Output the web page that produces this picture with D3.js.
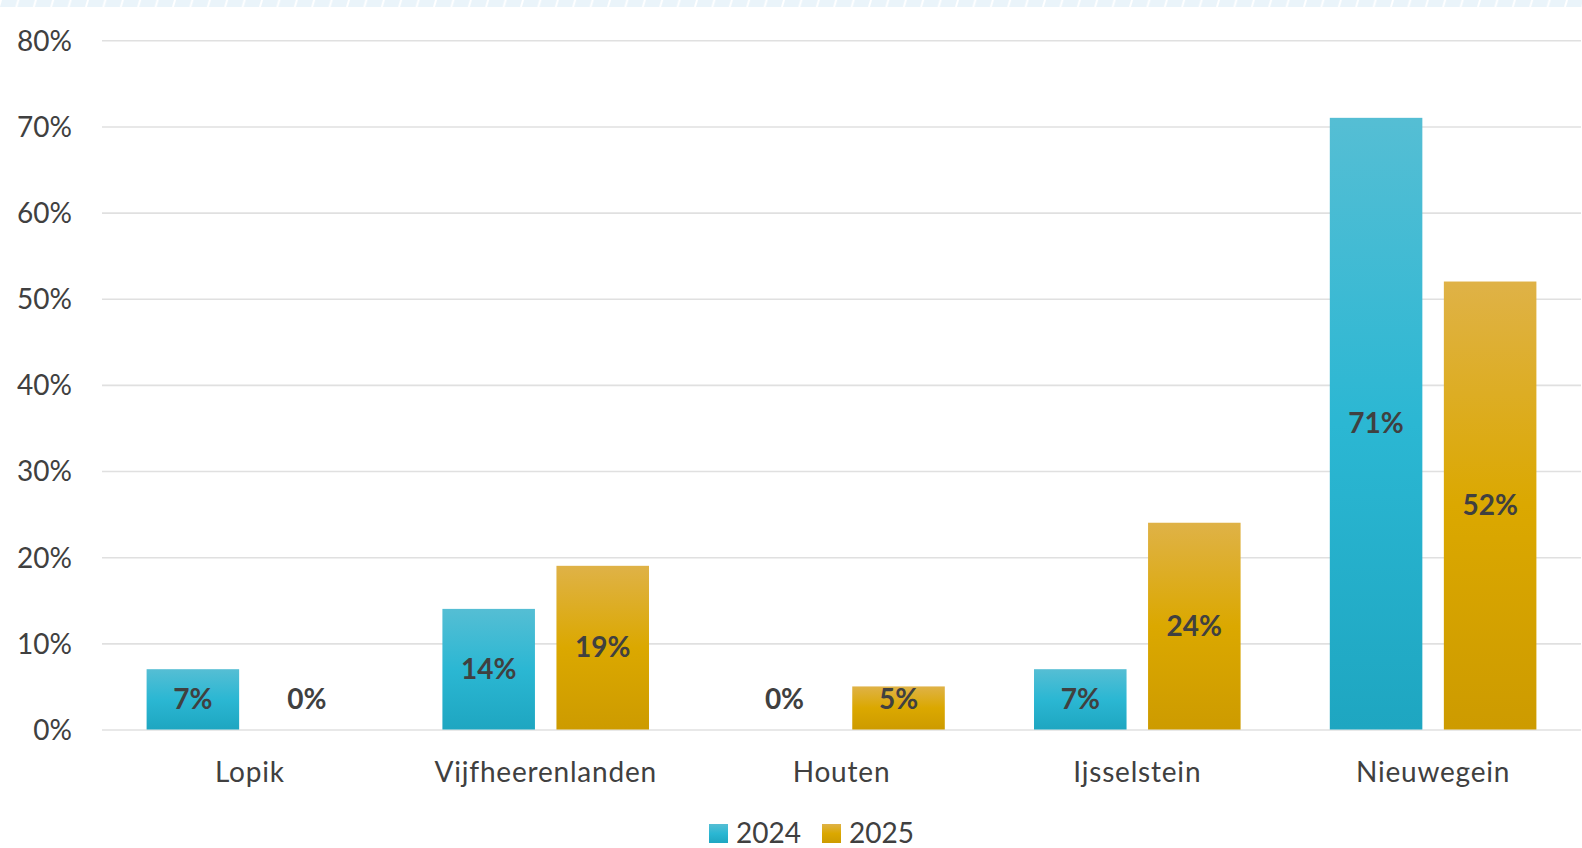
<!DOCTYPE html>
<html>
<head>
<meta charset="utf-8">
<script src="https://cdn.jsdelivr.net/npm/d3@7"></script>
<style>
  html, body { margin: 0; padding: 0; background: #fff; }
  svg { display: block; }
</style>
</head>
<body>
<svg id="chart" width="1582" height="848"></svg>
<script>
const categories = ["Lopik", "Vijfheerenlanden", "Houten", "Ijsselstein", "Nieuwegein"];
const seriesNames = ["2024", "2025"];
const values2024 = [7, 14, 0, 7, 71];
const values2025 = [0, 19, 5, 24, 52];
const yTicks = [0, 10, 20, 30, 40, 50, 60, 70, 80];

(function () {
const W = 1582, H = 848;
const svg = d3.select("#chart");
const font = "Lato, 'Open Sans', sans-serif";
const textColor = "#404040";
const fs = 28;

const plotLeft = 102, plotRight = 1581, plotTop = 40.3, plotBottom = 729.5;

const defs = svg.append("defs");
const gradSpecs = [
  { id: "g2024", stops: ["#55bed4", "#2bb7d3", "#1ea6c1"] },
  { id: "g2025", stops: ["#dfb247", "#dba800", "#cd9b00"] }
];
gradSpecs.forEach(g => {
  const lg = defs.append("linearGradient").attr("id", g.id)
    .attr("x1", 0).attr("y1", 0).attr("x2", 0).attr("y2", 1);
  lg.append("stop").attr("offset", "0%").attr("stop-color", g.stops[0]);
  lg.append("stop").attr("offset", "50%").attr("stop-color", g.stops[1]);
  lg.append("stop").attr("offset", "100%").attr("stop-color", g.stops[2]);
});

// top dashed strip
const pat = defs.append("pattern").attr("id", "dash").attr("patternUnits", "userSpaceOnUse")
  .attr("width", 17.4).attr("height", 7);
pat.append("polygon").attr("points", "2,0 17.4,0 15.4,7 0,7").attr("fill", "#eaf4fa");
svg.append("rect").attr("x", 0).attr("y", 0).attr("width", W).attr("height", 7).attr("fill", "url(#dash)");

const y = d3.scaleLinear().domain([0, 80]).range([plotBottom, plotTop]);
const x0 = d3.scaleBand().domain(categories).range([plotLeft, plotRight]).paddingInner(0).paddingOuter(0);
const bw = x0.bandwidth();
const groupStart = bw * 0.1508, groupEnd = bw * (1 - 0.1508);
const x1 = d3.scaleBand().domain(seriesNames).range([groupStart, groupEnd]).paddingInner(0.1886).paddingOuter(0);

// gridlines
const yAxis = d3.axisLeft(y).tickValues(yTicks).tickSize(-(plotRight - plotLeft)).tickFormat(d => d + "%");
const ga = svg.append("g").attr("transform", `translate(${plotLeft},0)`).call(yAxis);
ga.select(".domain").remove();
ga.selectAll(".tick line").attr("stroke", "#e0e0e0").attr("stroke-width", 1.6);
ga.selectAll(".tick text").attr("x", -30).attr("dy", "0.35em")
  .attr("font-family", font).attr("font-size", fs).attr("fill", textColor);

// bars
const data = categories.map((c, i) => ({ cat: c, vals: [
  { s: "2024", v: values2024[i] }, { s: "2025", v: values2025[i] }] }));

const groups = svg.append("g").selectAll("g").data(data).join("g")
  .attr("transform", d => `translate(${x0(d.cat)},0)`);

groups.selectAll("rect").data(d => d.vals).join("rect")
  .attr("x", d => x1(d.s)).attr("width", x1.bandwidth())
  .attr("y", d => y(d.v)).attr("height", d => y(0) - y(d.v))
  .attr("fill", d => `url(#g${d.s})`);

groups.selectAll("text.lbl").data(d => d.vals).join("text").attr("class", "lbl")
  .attr("x", d => x1(d.s) + x1.bandwidth() / 2)
  .attr("y", d => Math.min((y(d.v) + y(0)) / 2, y(0) - 30.5))
  .attr("dy", "0.35em").attr("text-anchor", "middle")
  .attr("font-family", font).attr("font-weight", "bold").attr("font-size", fs)
  .attr("fill", textColor).text(d => d.v + "%");

// category labels
const xAxis = d3.axisBottom(x0).tickSize(0).tickPadding(0);
const gx = svg.append("g").attr("transform", `translate(0,${plotBottom})`).call(xAxis);
gx.select(".domain").remove();
gx.selectAll(".tick text").attr("y", 43).attr("dy", "0.35em")
  .attr("font-family", font).attr("font-size", fs).attr("letter-spacing", "0.8px").attr("fill", textColor);

// legend
const legendX = [709, 822];
const li = svg.append("g").selectAll("g").data(seriesNames).join("g")
  .attr("transform", (d, i) => `translate(${legendX[i]},824)`);
li.append("rect").attr("width", 19).attr("height", 19).attr("fill", d => `url(#g${d})`);
li.append("text").attr("x", 27).attr("y", 9.5).attr("dy", "0.35em")
  .attr("font-family", font).attr("font-size", fs).attr("fill", textColor).text(d => d);
})();
</script>
</body>
</html>
